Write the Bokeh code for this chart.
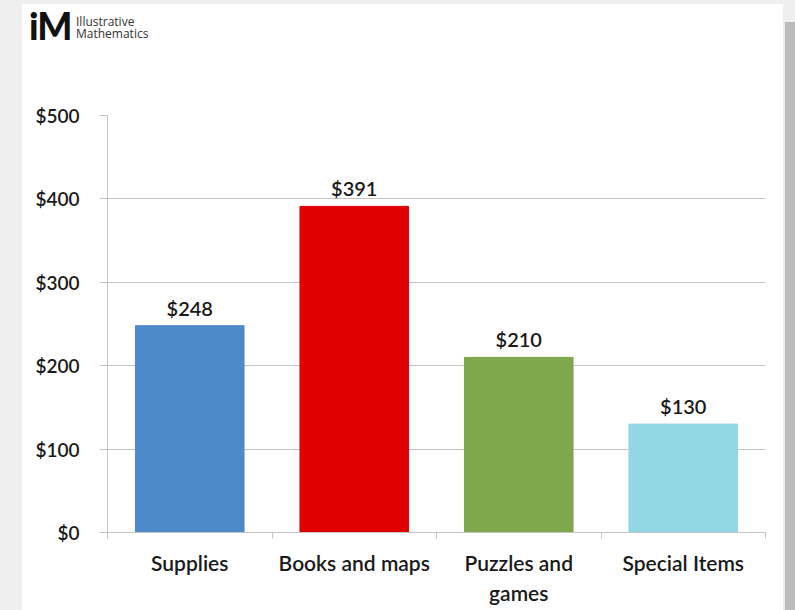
from bokeh.plotting import figure
from bokeh.layouts import column
from bokeh.models import FixedTicker, NumeralTickFormatter, Range1d, ColumnDataSource, Div
from bokeh.core.properties import value
from bokeh.embed import file_html
from bokeh.resources import INLINE

# ---- data ----
categories = ["Supplies", "Books and maps", "Puzzles and games", "Special Items"]
tick_labels = ["Supplies", "Books and maps", "Puzzles and\ngames", "Special Items"]
amounts = [248, 391, 210, 130]
bar_colors = ["#4d8ac9", "#e00000", "#7ea84b", "#92d6e4"]
y_ticks = [0, 100, 200, 300, 400, 500]
logo_big = "iM"
logo_lines = ["Illustrative", "Mathematics"]

centers = [i + 0.5 for i in range(len(categories))]
boundaries = list(range(len(categories) + 1))
value_text = ["$" + str(v) for v in amounts]

src = ColumnDataSource(dict(x=centers, top=amounts, color=bar_colors, label=value_text))

FONT = "Lato Semibold, Lato"
GRID = "#c4c4c4"
TXT = "#1a1a1a"
W = 795

# ---- logo strip ----
blk = "position:absolute;display:block;"
logo_html = (
    '<div style="position:relative;width:795px;height:60px;">'
    '<span style="' + blk + 'white-space:nowrap;left:29px;top:7px;height:37px;font-family:Lato;'
    'font-size:37px;font-weight:900;line-height:37px;color:#111111;letter-spacing:-1px;">'
    + logo_big + '</span>'
    '<span style="' + blk + 'white-space:pre;left:76px;top:16px;font-family:\'Open Sans\';'
    'font-size:12px;line-height:12px;color:#333333;">' + "\n".join(logo_lines) + '</span>'
    '</div>'
)
logo = Div(text=logo_html, width=W, height=60, margin=0)

# ---- chart ----
p = figure(width=W, height=550,
           x_range=Range1d(0, len(categories)), y_range=Range1d(0, 500),
           output_backend="svg", toolbar_location=None,
           min_border_left=107, min_border_right=30,
           min_border_top=55, min_border_bottom=78)
p.outline_line_color = None
p.border_fill_color = None
p.background_fill_color = "white"

p.vbar(x="x", top="top", width=0.66, color="color", source=src)
p.text(x="x", y="top", text="label", source=src, text_align="center",
       text_baseline="alphabetic", y_offset=-18,
       text_font=value(FONT), text_font_size="20px", text_color=TXT)

# y axis
p.yaxis.ticker = FixedTicker(ticks=y_ticks)
p.yaxis.formatter = NumeralTickFormatter(format="$0")
p.yaxis.minor_tick_line_color = None
p.yaxis.major_tick_out = 8
p.yaxis.major_tick_in = 0
p.yaxis.major_tick_line_color = GRID
p.yaxis.axis_line_color = GRID
p.yaxis.major_label_standoff = 20
p.yaxis.major_label_text_font = FONT
p.yaxis.major_label_text_font_size = "19px"
p.yaxis.major_label_text_color = TXT

# x axis
p.xaxis.ticker = FixedTicker(ticks=centers, minor_ticks=boundaries)
p.xaxis.major_label_overrides = {c: t for c, t in zip(centers, tick_labels)}
p.xaxis.major_tick_line_color = None
p.xaxis.major_tick_out = 0
p.xaxis.major_tick_in = 0
p.xaxis.minor_tick_out = 6
p.xaxis.minor_tick_in = 0
p.xaxis.minor_tick_line_color = GRID
p.xaxis.axis_line_color = GRID
p.xaxis.major_label_standoff = 11
p.xaxis.major_label_text_font = FONT
p.xaxis.major_label_text_font_size = "21px"
p.xaxis.major_label_text_color = TXT

p.xgrid.visible = False
p.ygrid.ticker = FixedTicker(ticks=y_ticks)
p.ygrid.grid_line_color = GRID

page_bg = (
    "linear-gradient(#efefef, #efefef) top right / 12px 22px no-repeat, "
    "linear-gradient(#efefef, #efefef) top left / 100% 4px no-repeat, "
    "linear-gradient(to right, #efefef 0px, #efefef 22px, #ffffff 22px, #ffffff 783px, "
    "#ececec 783px, #ececec 785px, #bcbcbc 785px, #bcbcbc 795px)"
)
page = column(logo, p, spacing=0, styles={"background": page_bg})
open("out.html", "w").write(file_html(page, INLINE))
